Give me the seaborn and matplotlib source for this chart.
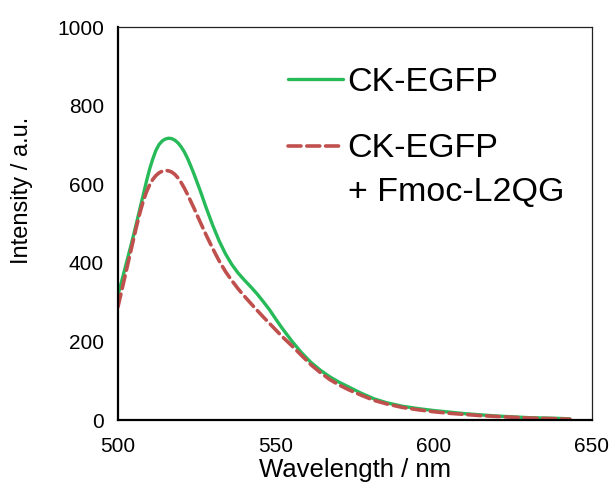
import matplotlib
matplotlib.use("Agg")
import matplotlib.pyplot as plt
import seaborn as sns
import pandas as pd

wl_green = [500, 501, 502, 503, 504, 505, 506, 507, 508, 509, 510, 511, 512, 513, 514, 515,
            516, 517, 518, 519, 520, 521, 522, 523, 524, 526, 528, 530, 532, 534, 536, 538,
            540, 542, 544, 546, 548, 550, 552, 555, 558, 561, 564, 567, 570, 573, 577, 581,
            585, 590, 595, 600, 605, 610, 615, 620, 625, 630, 635, 640, 643]
int_green = [318, 348, 379, 410, 441, 473, 506, 540, 573, 607, 638, 664, 686, 701, 710, 715,
             717, 716, 712, 705, 695, 682, 666, 647, 627, 584, 538, 495, 456, 423, 396, 374,
             356, 339, 321, 301, 280, 256, 233, 201, 172, 147, 127, 110, 96, 84, 68, 54,
             44, 35, 29, 24, 20, 16, 13, 10, 8, 6, 5, 4, 3]

wl_red = [500, 501, 502, 503, 504, 505, 506, 507, 508, 509, 510, 511, 512, 513, 514, 515,
          516, 517, 518, 519, 520, 521, 522, 523, 524, 526, 528, 530, 532, 534, 536, 538,
          540, 543, 546, 549, 552, 555, 558, 561, 564, 567, 570, 573, 577, 581, 585, 590,
          595, 600, 605, 610, 615, 620, 625, 630, 635, 640, 643]
int_red = [288, 323, 358, 393, 428, 463, 497, 529, 557, 580, 598, 612, 622, 629, 633, 635,
           634, 631, 625, 616, 604, 590, 574, 557, 540, 504, 469, 436, 405, 378, 355, 334,
           315, 288, 262, 237, 212, 189, 165, 141, 121, 103, 89, 77, 63, 50, 41, 32,
           26, 21, 17, 14, 11, 9, 7, 5, 4, 3, 2]

label_green = "CK-EGFP"
label_red = "CK-EGFP"
label_red_2 = "+ Fmoc-L2QG"
x_ticks = [500, 550, 600, 650]
y_ticks = [0, 200, 400, 600, 800, 1000]

sns.set_theme(style="white")
plt.rcParams['font.family'] = ['Liberation Sans', 'DejaVu Sans']
plt.rcParams['text.color'] = 'black'
plt.rcParams['axes.labelcolor'] = 'black'

fig = plt.figure(figsize=(6.11, 4.91), dpi=100)
ax = fig.add_axes([0.1931, 0.1446, 0.7758, 0.8004])

df_g = pd.DataFrame({"wl": wl_green, "I": int_green})
df_r = pd.DataFrame({"wl": wl_red, "I": int_red})

sns.lineplot(data=df_g, x="wl", y="I", ax=ax, color="#26BA58", linewidth=2.4,
             label=label_green, solid_capstyle="round")
sns.lineplot(data=df_r, x="wl", y="I", ax=ax, color="#C0504D", linewidth=2.6,
             label=label_red, dashes=False)
ax.lines[1].set_linestyle((0, (3.6, 1.6)))
ax.lines[1].set_dash_capstyle("round")

ax.set_xlim(500, 650)
ax.set_ylim(0, 1000)
ax.set_xticks(x_ticks)
ax.set_yticks(y_ticks)
ax.set_xlabel("Wavelength / nm", fontsize=18.5, labelpad=2, color="black")
ax.set_ylabel("Intensity / a.u.", fontsize=17, color="black")
ax.yaxis.set_label_coords(-0.18, 0.585)
ax.tick_params(axis="both", labelsize=15, colors="black", direction="out",
               length=6, width=1.5)
ax.tick_params(axis="x", pad=6)
ax.tick_params(axis="y", pad=4)
for s in ["left", "bottom"]:
    ax.spines[s].set_linewidth(1.6)
    ax.spines[s].set_color("black")
for s in ["top", "right"]:
    ax.spines[s].set_linewidth(0.9)
    ax.spines[s].set_color("#222222")

leg = ax.legend(loc="upper left", bbox_to_anchor=(0.359, 0.899), frameon=False,
                fontsize=24.5, handlelength=1.62, handletextpad=0.12,
                borderpad=0, borderaxespad=0, labelspacing=1.05)
for t in leg.get_texts():
    t.set_color("black")
ax.text(0.485, 0.58, label_red_2, transform=ax.transAxes, fontsize=24.5,
        ha="left", va="center", color="black")

fig.savefig("out.png", dpi=100)
